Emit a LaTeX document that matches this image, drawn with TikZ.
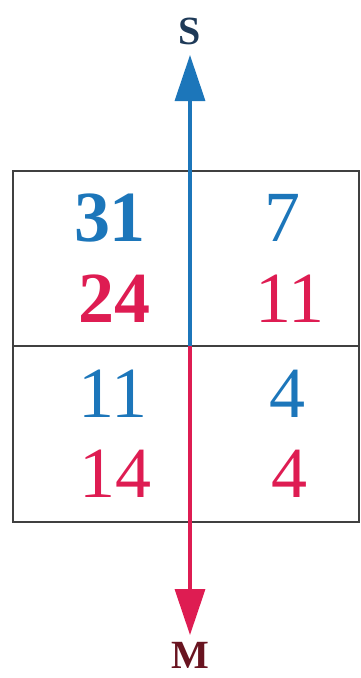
\documentclass[tikz,border=0pt]{standalone}
\usepackage{fontspec}
\setmainfont{Liberation Serif}
\usetikzlibrary{arrows.meta}
\definecolor{sblue}{RGB}{28,118,186}
\definecolor{mred}{RGB}{222,28,82}
\definecolor{sdark}{RGB}{30,58,88}
\definecolor{mdark}{RGB}{105,20,32}
\begin{document}
\begin{tikzpicture}[x=1pt, y=-1pt,
  num/.style={font=\fontsize{72}{72}\selectfont, inner sep=0pt},
  bnum/.style={font=\fontsize{72}{72}\selectfont\bfseries, inner sep=0pt},
  lbl/.style={font=\fontsize{40}{40}\selectfont\bfseries, inner sep=0pt},
  axis/.style={line width=3.5pt, -{Triangle[length=46pt, width=30pt]}},
  frame/.style={draw=black!75, line width=1.8pt}
]
\useasboundingbox (0,0) rectangle (361,678);
% table
\draw[frame] (13,171) rectangle (359,522);
\draw[frame] (13,346) -- (359,346);
% axis
\coordinate (mid)  at (190,346);
\coordinate (top)  at (190,55);
\coordinate (bot)  at (190,635);
\draw[axis, sblue] (mid) -- (top);
\draw[axis, mred]  (mid) -- (bot);
\node[lbl, text=sdark] (S) at (190,31)  {S};
\node[lbl, text=mdark] (M) at (190,655) {M};
% values
\node[bnum, text=sblue] (a1) at (110,218) {31};
\node[bnum, text=mred]  (a2) at (114,299) {24};
\node[num, text=sblue]  (b1) at (282,218) {7};
\node[num, text=mred]   (b2) at (290,299) {11};
\node[num, text=sblue]  (c1) at (113,394) {11};
\node[num, text=mred]   (c2) at (115,474) {14};
\node[num, text=sblue]  (d1) at (287,394) {4};
\node[num, text=mred]   (d2) at (289,474) {4};
\end{tikzpicture}
\end{document}
